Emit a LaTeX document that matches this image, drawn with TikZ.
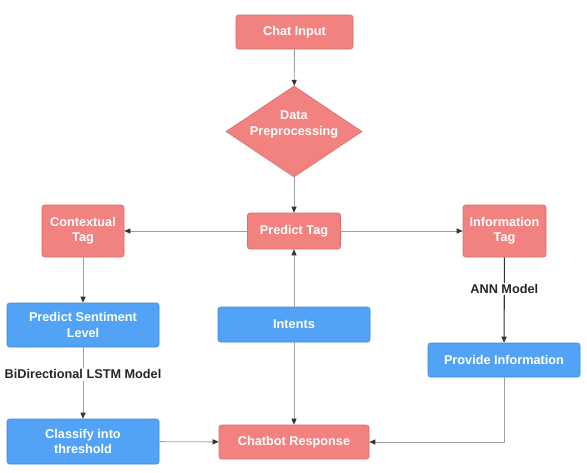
\documentclass[tikz,border=0pt]{standalone}
\usepackage{fontspec}
\setmainfont{Liberation Sans}
\usetikzlibrary{shapes.geometric,arrows.meta}
\definecolor{redfill}{HTML}{F2827F}
\definecolor{redline}{HTML}{D96C69}
\definecolor{bluefill}{HTML}{52A3F5}
\definecolor{blueline}{HTML}{3E8CDB}
\definecolor{conn}{HTML}{A0A0A0}
\definecolor{tipc}{HTML}{333333}
\begin{document}
\begin{tikzpicture}[x=1pt,y=-1pt,
  txt/.style={font=\fontsize{12.7pt}{15.3pt}\selectfont\bfseries, text=white, align=center},
  redbox/.style={txt, draw=redline, fill=redfill, rounded corners=2.5pt, line width=0.6pt, inner sep=1pt},
  bluebox/.style={txt, draw=blueline, fill=bluefill, rounded corners=2.5pt, line width=0.6pt, inner sep=1pt},
  line/.style={draw=conn, line width=0.9pt, -{Triangle[length=6pt,width=5pt,color=tipc]}},
  darkline/.style={draw=tipc, line width=1.1pt, -{Triangle[length=6pt,width=5pt,color=tipc]}},
  lbl/.style={font=\fontsize{12.7pt}{15.3pt}\selectfont\bfseries, text=black!85, fill=white, inner sep=1.5pt}
]
\useasboundingbox[fill=white] (0,0) rectangle (587,472);

\node[redbox, minimum width=117pt, minimum height=34pt] (ci) at (294.5,32) {Chat Input};
\node[diamond, draw=redline, fill=redfill, line width=0.6pt, minimum width=136pt, minimum height=91pt, inner sep=0pt,
      label={[txt, yshift=7pt]center:Data\\Preprocessing}] (dp) at (294,131.5) {};
\node[redbox, minimum width=93pt, minimum height=36pt] (pt) at (294,231) {Predict Tag};
\node[redbox, minimum width=82pt, minimum height=52pt] (ct) at (83,231) {Contextual\\Tag};
\node[redbox, minimum width=83pt, minimum height=52pt] (it) at (504.5,231) {Information\\Tag};
\node[bluebox, minimum width=152pt, minimum height=44pt] (ps) at (83,325) {Predict Sentiment\\Level};
\node[bluebox, minimum width=152pt, minimum height=35pt] (in) at (294,324.5) {Intents};
\node[bluebox, minimum width=152pt, minimum height=34pt] (pi) at (504,360) {Provide Information};
\node[bluebox, minimum width=152pt, minimum height=45pt] (cl) at (83,441.5) {Classify into\\threshold};
\node[redbox, minimum width=150pt, minimum height=34pt] (cr) at (294,442) {Chatbot Response};

\draw[line] (ci) -- (dp);
\draw[line] (dp) -- (pt);
\draw[line] (pt) -- (ct);
\draw[line] (pt) -- (it);
\draw[line] (ct) -- (ps);
\draw[line] (ps) -- node[lbl, pos=0.38] (lstm) {BiDirectional LSTM Model} (cl);
\draw[line] (cl) -- (cr);
\draw[line] (in) -- (pt);
\draw[line] (in) -- (cr);
\draw[darkline] (it) -- node[lbl, pos=0.37] (ann) {ANN Model} (pi);
\draw[line] (pi.south) |- (cr.east);
\end{tikzpicture}
\end{document}
